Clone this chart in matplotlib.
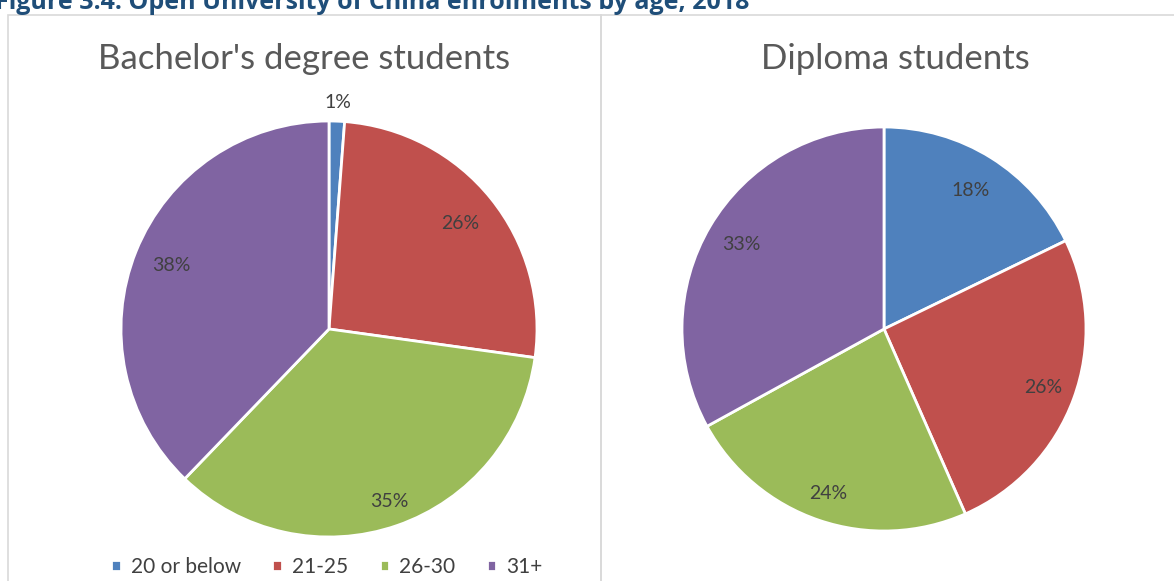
import matplotlib
matplotlib.use("Agg")
import matplotlib.pyplot as plt
from matplotlib.patches import Rectangle
import numpy as np

categories = ["20 or below", "21-25", "26-30", "31+"]
bachelor = [1.2, 26.0, 35.0, 37.8]
diploma = [17.8, 25.6, 23.6, 33.0]
colors = ["#4F81BD", "#C0504D", "#9BBB59", "#8064A2"]
fig_title = "Figure 3.4: Open University of China enrolments by age, 2018"
titles = ["Bachelor's degree students", "Diploma students"]

W, H = 1174, 581
fig = plt.figure(figsize=(W / 100, H / 100), dpi=100)
plt.rcParams['font.family'] = ['Lato', 'DejaVu Sans']

# panel borders
for x0, x1 in [(8, 601), (601, 1180)]:
    fig.patches.append(Rectangle((x0 / W, -0.05), (x1 - x0) / W, 1.05 - 15 / H,
                                 transform=fig.transFigure, fill=False, edgecolor="#D9D9D9", lw=1.2))

fig.text(-0.004, 1 - 9 / H, fig_title, color="#1F4E79", fontsize=18, fontweight="bold",
         family=["Open Sans", "DejaVu Sans"], va="baseline", ha="left")

def draw(cx, cy, r, vals, title, dists, tx):
    ax = fig.add_axes([(cx - r) / W, 1 - (cy + r) / H, 2 * r / W, 2 * r / H])
    wedges, _ = ax.pie(vals, colors=colors, startangle=90, counterclock=False,
                       wedgeprops=dict(edgecolor="white", linewidth=2))
    ax.set_xlim(-1, 1); ax.set_ylim(-1, 1); ax.set_aspect("auto")
    for w, v, d in zip(wedges, vals, dists):
        ang = np.deg2rad((w.theta1 + w.theta2) / 2)
        ax.text(d * np.cos(ang), d * np.sin(ang), f"{v:.0f}%", ha="center", va="center",
                fontsize=14, color="#404040", clip_on=False)
    fig.text(tx / W, 1 - 59 / H, title, ha="center", va="center", fontsize=25, color="#595959")
    return wedges

wl = draw(329, 329, 208, bachelor, titles[0], [1.09, 0.81, 0.88, 0.82], 304)
draw(884, 329, 202, diploma, titles[1], [0.81, 0.84, 0.86, 0.82], 895)

fig.legend(wl, categories, loc="center", bbox_to_anchor=(327 / W, 1 - 567 / H), ncol=4,
           frameon=False, fontsize=15, handlelength=0.45, handleheight=0.45, columnspacing=1.5,
           handletextpad=0.5, labelcolor="#404040")

fig.savefig("out.png", dpi=100)
